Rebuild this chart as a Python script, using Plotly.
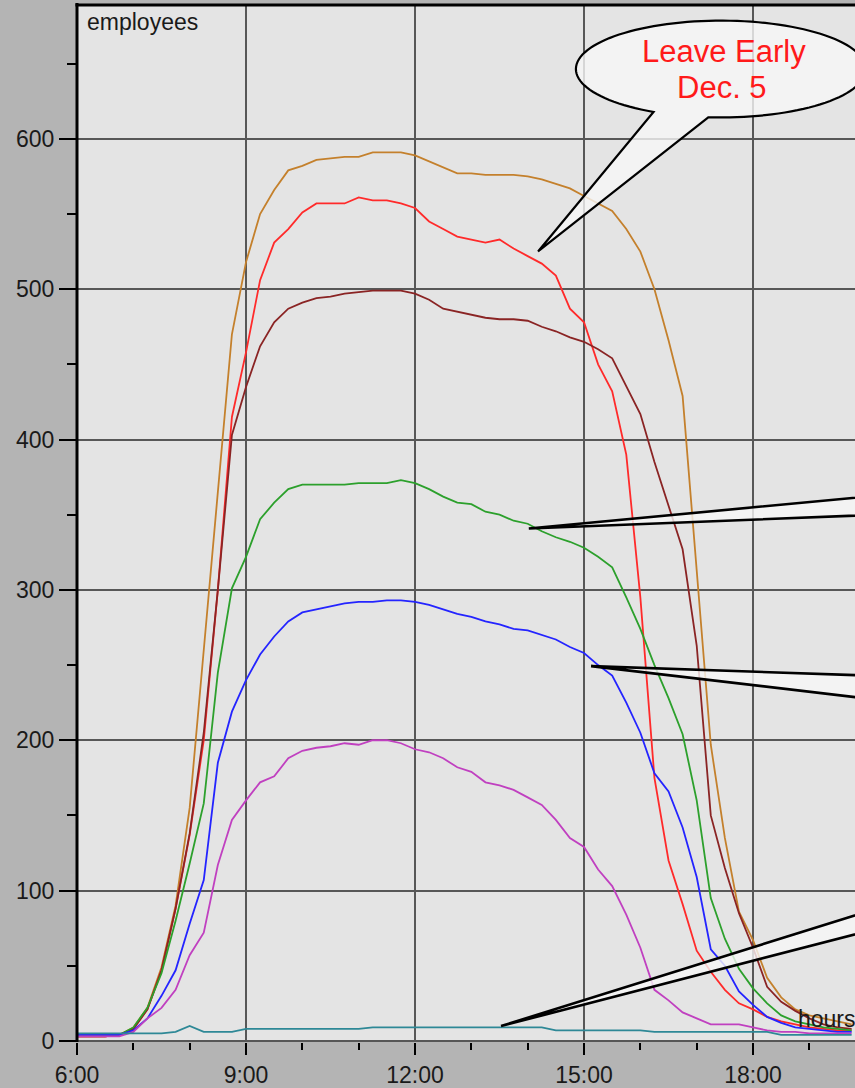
import plotly.graph_objects as go
import numpy as np

# ---------------- data ----------------
TIMES = ["6:00", "6:15", "6:30", "6:45", "7:00", "7:15", "7:30", "7:45",
         "8:00", "8:15", "8:30", "8:45", "9:00", "9:15", "9:30", "9:45",
         "10:00", "10:15", "10:30", "10:45", "11:00", "11:15", "11:30", "11:45",
         "12:00", "12:15", "12:30", "12:45", "13:00", "13:15", "13:30", "13:45",
         "14:00", "14:15", "14:30", "14:45", "15:00", "15:15", "15:30", "15:45",
         "16:00", "16:15", "16:30", "16:45", "17:00", "17:15", "17:30", "17:45",
         "18:00", "18:15", "18:30", "18:45", "19:00", "19:15", "19:30", "19:45"]

tan = [3, 3, 3, 4, 9, 22, 49, 90, 155, 260, 365, 470, 518, 550, 566, 579,
       582, 586, 587, 588, 588, 591, 591, 591, 589, 585, 581, 577, 577, 576, 576, 576,
       575, 573, 570, 567, 562, 557, 552, 540, 525, 500, 466, 429, 315, 197, 135, 86,
       67, 42, 29, 21, 17, 15, 13, 11]
red = [3, 3, 3, 4, 8, 21, 47, 88, 137, 200, 300, 415, 458, 506, 531, 540,
       551, 557, 557, 557, 561, 559, 559, 557, 554, 545, 540, 535, 533, 531, 533, 527,
       522, 517, 509, 487, 478, 450, 432, 390, 295, 175, 120, 91, 60, 46, 34, 25,
       21, 16, 13, 11, 9, 8, 7, 7]
maroon = [3, 3, 3, 4, 8, 21, 47, 88, 138, 205, 300, 403, 435, 462, 478, 487,
          491, 494, 495, 497, 498, 499, 499, 499, 497, 493, 487, 485, 483, 481, 480, 480,
          479, 475, 472, 468, 465, 460, 454, 436, 417, 385, 356, 327, 263, 150, 115, 85,
          62, 36, 26, 20, 15, 11, 9, 8]
green = [4, 4, 4, 4, 9, 22, 45, 80, 118, 158, 245, 301, 322, 347, 358, 367,
         370, 370, 370, 370, 371, 371, 371, 373, 371, 367, 362, 358, 357, 352, 350, 346,
         344, 339, 335, 332, 328, 322, 315, 295, 274, 250, 228, 204, 160, 95, 68, 48,
         35, 25, 17, 13, 11, 9, 8, 7]
blue = [4, 4, 4, 4, 7, 15, 30, 47, 78, 107, 185, 219, 240, 257, 269, 279,
        285, 287, 289, 291, 292, 292, 293, 293, 292, 290, 287, 284, 282, 279, 277, 274,
        273, 270, 267, 262, 258, 250, 243, 225, 205, 178, 166, 142, 109, 61, 50, 33,
        24, 16, 12, 9, 8, 7, 6, 6]
magenta = [3, 3, 3, 3, 6, 15, 22, 34, 57, 72, 117, 147, 160, 172, 176, 188,
           193, 195, 196, 198, 197, 200, 200, 198, 194, 192, 188, 182, 179, 172, 170, 167,
           162, 157, 147, 135, 129, 114, 103, 84, 62, 34, 27, 19, 15, 11, 11, 11,
           9, 7, 6, 6, 5, 5, 5, 5]
teal = [5, 5, 5, 5, 5, 5, 5, 6, 10, 6, 6, 6, 8, 8, 8, 8,
        8, 8, 8, 8, 8, 9, 9, 9, 9, 9, 9, 9, 9, 9, 9, 9,
        9, 9, 7, 7, 7, 7, 7, 7, 7, 6, 6, 6, 6, 6, 6, 6,
        6, 6, 4, 4, 4, 4, 4, 4]

TICK_HOURS = [6, 9, 12, 15, 18]
TICK_TEXT = ["6:00", "9:00", "12:00", "15:00", "18:00"]

series = [
    ("tan", tan, "#c4802c"),
    ("red", red, "#ff2a2a"),
    ("maroon", maroon, "#8a2424"),
    ("green", green, "#2ca02c"),
    ("blue", blue, "#2424ff"),
    ("magenta", magenta, "#c040c0"),
    ("teal", teal, "#2e8896"),
]


def to_hours(s):
    h, m = s.split(":")
    return int(h) + int(m) / 60.0


hours = [to_hours(t) for t in TIMES]

FONT = "Liberation Sans, Arial, Helvetica, sans-serif"

fig = go.Figure()
for name, vals, col in series:
    fig.add_trace(go.Scatter(x=hours, y=vals, mode="lines", name=name,
                             line=dict(color=col, width=1.8), hoverinfo="skip"))

# ---------------- callouts (decorations, in data units) ----------------
X0, X1 = 6.0, 19.81
Y0, Y1 = -0.7, 689.0


def extend(tip, p, f=1.6):
    return (tip[0] + (p[0] - tip[0]) * f, tip[1] + (p[1] - tip[1]) * f)


wedges = [
    ((14.02, 340.8), (19.81, 361.3), (19.81, 349.4)),
    ((15.125, 249.3), (19.81, 243.3), (19.81, 228.7)),
    ((13.527, 9.9), (19.81, 83.5), (19.81, 70.9)),
]
shapes = []
for tip, a, b in wedges:
    pa = extend(tip, a)
    pb = extend(tip, b)
    path = f"M {tip[0]},{tip[1]} L {pa[0]},{pa[1]} L {pb[0]},{pb[1]} Z"
    shapes.append(dict(type="path", xref="x", yref="y", path=path,
                       fillcolor="rgba(246,246,246,0.8)",
                       line=dict(color="black", width=2.6), layer="above"))

# speech bubble
cx, cy, ra, rb = 17.43, 646.4, 2.574, 32.2
phi_start = np.deg2rad(-95.0)
phi_end = np.deg2rad(242.3)
phis = np.linspace(phi_start, phi_end, 120)
pts = [(cx + ra * np.cos(p), cy + rb * np.sin(p)) for p in phis]
tip = (14.184, 525.1)
path = "M " + " L ".join(f"{x:.4f},{y:.3f}" for x, y in pts) + f" L {tip[0]},{tip[1]} Z"
shapes.append(dict(type="path", xref="x", yref="y", path=path,
                   fillcolor="rgba(246,246,246,0.8)",
                   line=dict(color="black", width=2.2), layer="above"))

# plot frame (left & top thick borders)
shapes.append(dict(type="line", xref="paper", yref="paper", x0=0, x1=0, y0=0, y1=1.002,
                   line=dict(color="black", width=3), layer="above"))
shapes.append(dict(type="line", xref="paper", yref="paper", x0=-0.002, x1=1, y0=1, y1=1,
                   line=dict(color="black", width=3), layer="above"))

annotations = [
    dict(text="employees", xref="paper", yref="paper", x=0.0106, y=0.9837,
         xanchor="left", yanchor="middle", showarrow=False,
         font=dict(family=FONT, size=23, color="#1a1a1a")),
    dict(text="hours", xref="paper", yref="paper", x=0.9245, y=0.0221,
         xanchor="left", yanchor="middle", showarrow=False,
         font=dict(family=FONT, size=23, color="#1a1a1a")),
    dict(text="Leave Early", xref="paper", yref="paper", x=0.8316, y=0.9548,
         xanchor="center", yanchor="middle", showarrow=False,
         font=dict(family=FONT, size=31, color="#ff1a1a")),
    dict(text="Dec. 5", xref="paper", yref="paper", x=0.829, y=0.9202,
         xanchor="center", yanchor="middle", showarrow=False,
         font=dict(family=FONT, size=31, color="#ff1a1a")),
]

fig.update_layout(
    width=855, height=1088,
    margin=dict(l=77, r=0, t=5, b=43, pad=0),
    paper_bgcolor="#b4b4b4", plot_bgcolor="#e4e4e4",
    showlegend=False,
    shapes=shapes, annotations=annotations,
    font=dict(family=FONT, color="#1a1a1a"),
    xaxis=dict(range=[X0, X1], tickmode="array", tickvals=TICK_HOURS, ticktext=TICK_TEXT,
               showgrid=True, gridcolor="#575757", gridwidth=1.5, zeroline=False,
               showline=False, ticks="outside", ticklen=12, tickwidth=2, tickcolor="black",
               tickfont=dict(family=FONT, size=23, color="#1a1a1a"),
               minor=dict(ticks="outside", ticklen=7, tickwidth=2, tickcolor="black",
                          tick0=6, dtick=1, showgrid=False)),
    yaxis=dict(range=[Y0, Y1], tick0=0, dtick=100,
               showgrid=True, gridcolor="#575757", gridwidth=1.5, zeroline=False,
               showline=False, ticks="outside", ticklen=17, tickwidth=2, tickcolor="black",
               tickfont=dict(family=FONT, size=23, color="#1a1a1a"),
               minor=dict(ticks="outside", ticklen=9, tickwidth=2, tickcolor="black",
                          tick0=0, dtick=50, showgrid=False)),
)

fig.write_html("out.html", config={"displayModeBar": False},
               post_script="document.body.style.margin='0';document.body.style.overflow='hidden';")
